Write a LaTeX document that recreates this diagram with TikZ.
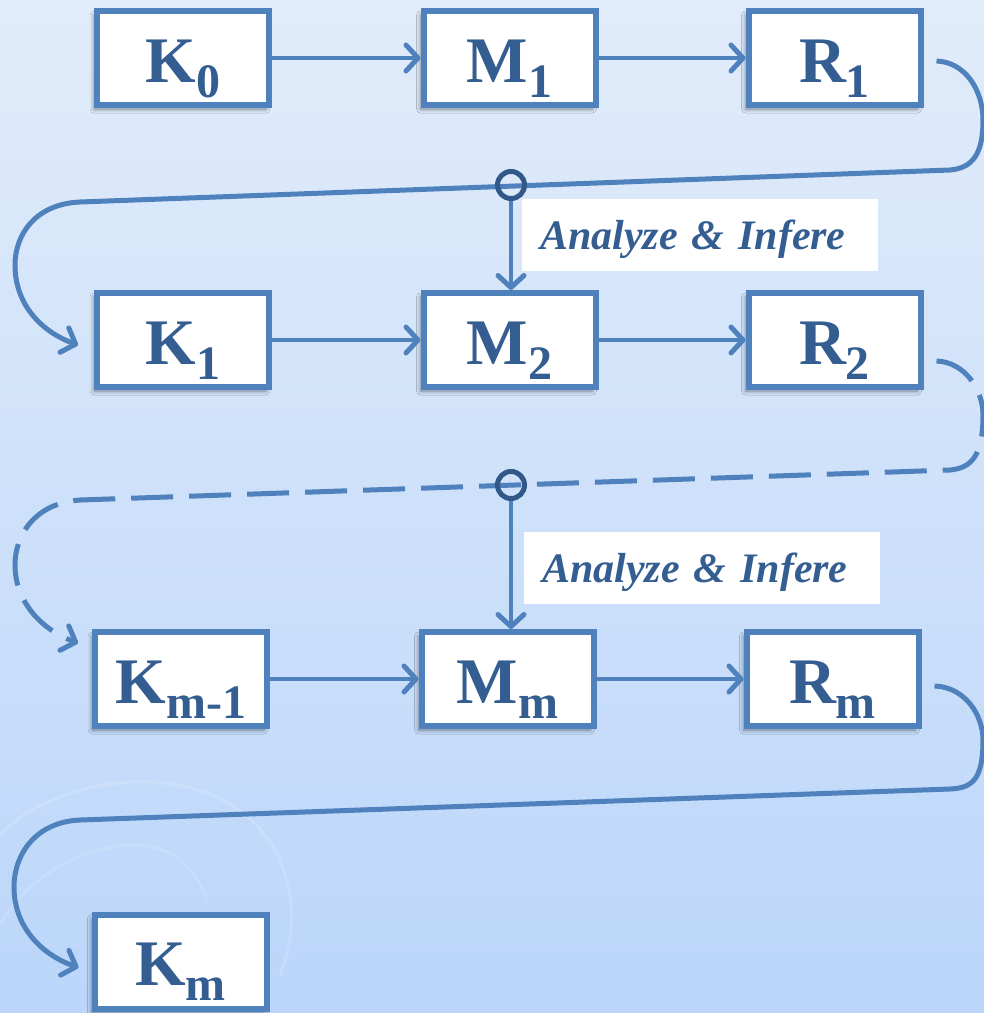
\documentclass[tikz,border=0pt]{standalone}
\usepackage{fontspec}
\setmainfont{Liberation Serif}
\usetikzlibrary{arrows.meta,shadows.blur,calc}
\definecolor{bgtop}{RGB}{225,236,250}
\definecolor{bgbot}{RGB}{187,214,250}
\definecolor{edge}{RGB}{79,129,189}
\definecolor{ink}{RGB}{52,94,145}
\definecolor{hubc}{RGB}{50,88,138}
% letter with a lowered index, as set inside each stage box
\newcommand\stagetext[2]{{\fontsize{65}{65}\selectfont #1}\raisebox{-15pt}{\fontsize{48}{48}\selectfont #2}}
\begin{document}
\begin{tikzpicture}[x=1pt,y=-1pt,
  stage/.style={draw=edge, line width=6pt, fill=white, minimum width=172pt,
    minimum height=94pt, inner sep=0pt, text height=48pt, text depth=0pt,
    text=ink, font=\bfseries,
    blur shadow={shadow xshift=-3pt, shadow yshift=-4pt, shadow blur radius=4pt, shadow opacity=45}},
  tip/.style={-{Straight Barb[length=12pt,width=26pt,line width=5pt,round]}},
  flow/.style={draw=edge, line width=4.5pt, tip},
  loop/.style={draw=edge, line width=5pt, tip},
  hub/.style={circle, draw=hubc, line width=5pt, minimum size=27pt, inner sep=0pt},
  note/.style={fill=white, text=ink, font={\bfseries\itshape\fontsize{42}{42}\selectfont},
    text width=320pt, align=left, inner xsep=18pt, inner ysep=0pt,
    minimum height=72pt, text height=28pt, text depth=0pt}]

% backdrop
\useasboundingbox (0,0) rectangle (984,1013);
\shade[top color=bgtop, bottom color=bgbot] (0,0) rectangle (984,1013);
\draw[white, opacity=0.14, line width=3pt] (0,835) .. controls (60,770) and (230,750) .. (280,860) .. controls (300,910) and (290,950) .. (280,975);
\draw[white, opacity=0.12, line width=3pt] (0,925) .. controls (40,850) and (180,800) .. (208,905);

% stages
\node[stage] (K0) at (183,58) {\stagetext{K}{0}};
\node[stage] (M1) at (509.5,58) {\stagetext{M}{1}};
\node[stage] (R1) at (834.5,58) {\stagetext{R}{1}};

\node[stage] (K1) at (183,340) {\stagetext{K}{1}};
\node[stage] (M2) at (509.5,340) {\stagetext{M}{2}};
\node[stage] (R2) at (834.5,340) {\stagetext{R}{2}};

\node[stage] (Kp) at (181,679) {\stagetext{K}{m-1}};
\node[stage] (Mm) at (507.5,679) {\stagetext{M}{m}};
\node[stage] (Rm) at (832.5,679) {\stagetext{R}{m}};

\node[stage] (Km) at (180.5,961.5) {\stagetext{K}{m}};

% arrows inside each row
\draw[flow] (K0.east) -- (M1.west);
\draw[flow] (M1.east) -- (R1.west);
\draw[flow] (K1.east) -- (M2.west);
\draw[flow] (M2.east) -- (R2.west);
\draw[flow] (Kp.east) -- (Mm.west);
\draw[flow] (Mm.east) -- (Rm.west);

% return loops from one row to the next
\draw[loop] ($(R1.east)+(13,3)$) .. controls (965,62) and (983,90) .. (983,120)
  .. controls (983,155) and (972,168) .. (950,170) -- (80,202)
  .. controls (35,204) and (15,235) .. (15,265)
  .. controls (15,305) and (42,332) .. ($(K1.west)+(-16,5)$);
\draw[loop, dash pattern=on 42pt off 16pt] ($(R2.east)+(13,21)$) .. controls (965,362) and (983,390) .. (983,415)
  .. controls (983,455) and (972,468) .. (950,470) -- (80,500)
  .. controls (35,503) and (15,535) .. (15,565)
  .. controls (15,602) and (42,630) .. ($(Kp.west)+(-14,-36)$);
\draw[loop] ($(Rm.east)+(13,7)$) .. controls (965,687) and (983,715) .. (983,740)
  .. controls (983,780) and (972,788) .. (950,789) -- (80,820)
  .. controls (35,822) and (14,855) .. (14,887)
  .. controls (14,927) and (42,955) .. ($(Km.west)+(-13,6)$);

% junctions and analysis labels
\node[hub] (c1) at (511,185) {};
\node[hub] (c2) at (511,485) {};
\node[note] (a1) at (700,235) {Analyze \& Infere};
\node[note] (a2) at (702,568) {Analyze \& Infere};
\draw[flow] (c1.south) -- (c1.south |- M2.north);
\draw[flow] (c2.south) -- (c2.south |- Mm.north);
\end{tikzpicture}
\end{document}
